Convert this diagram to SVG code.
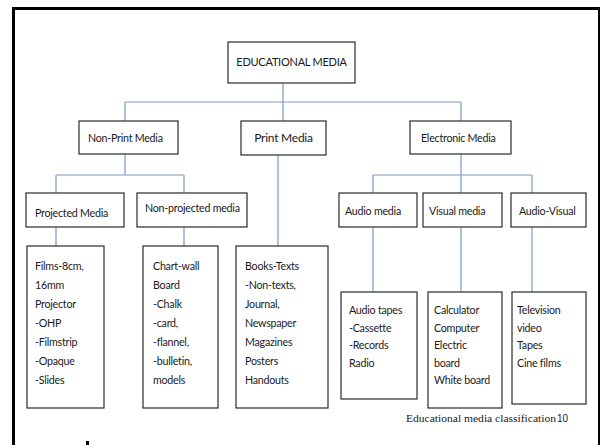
<svg xmlns="http://www.w3.org/2000/svg" width="602" height="445" viewBox="0 0 602 445">
<style>
.bx{fill:#fff;stroke:#2a2a2a;stroke-width:1.2}
.t{font-family:Lato,"Open Sans","Liberation Sans",sans-serif;font-size:10.7px;letter-spacing:-0.25px;fill:#1a1a1a}
.c{fill:none;stroke:#7a9cc6;stroke-width:1.2}
.frame{fill:none;stroke:#000}
</style>
<rect x="0" y="0" width="602" height="445" fill="#fff"/>
<g id="frame">
<line class="frame" x1="13.5" y1="8.5" x2="600" y2="8.5" stroke-width="3"/>
<line class="frame" x1="13.5" y1="7" x2="13.5" y2="445" stroke-width="3"/>
<line class="frame" x1="599" y1="7" x2="599" y2="445" stroke-width="2"/>
<rect x="86" y="441" width="3" height="4" fill="#000"/>
</g>
<g id="connectors">
<path class="c" d="M283 83V121M125 102H461M125 102V121M461 102V121"/>
<path class="c" d="M125 154V175M56 175H184M56 175V193M184 175V193M56 227V246M184 227V246"/>
<path class="c" d="M278 155V246"/>
<path class="c" d="M461 154V175M373 175H532M373 175V193M461 175V193M532 175V193M373 227V292M461 227V292M532 227V292"/>
</g>
<g id="edu"><rect class="bx" x="228" y="42" width="127" height="41"/><text class="t" x="291.5" y="66" text-anchor="middle" style="font-size:11px">EDUCATIONAL MEDIA</text></g>
<g id="nonprint"><rect class="bx" x="79" y="121" width="99" height="33"/><text class="t" x="88" y="142">Non-Print Media</text></g>
<g id="print"><rect class="bx" x="241" y="121" width="85" height="34"/><text class="t" x="283.5" y="142" text-anchor="middle" style="font-size:12px">Print Media</text></g>
<g id="electronic"><rect class="bx" x="410" y="121" width="101" height="33"/><text class="t" x="421" y="142">Electronic Media</text></g>
<g id="projected"><rect class="bx" x="26" y="193" width="98" height="34"/><text class="t" x="35" y="217">Projected Media</text></g>
<g id="nonprojected"><rect class="bx" x="137" y="193" width="110" height="34"/><text class="t" x="145" y="212">Non-projected media</text></g>
<g id="audio"><rect class="bx" x="339" y="193" width="78" height="34"/><text class="t" x="345" y="215">Audio media</text></g>
<g id="visual"><rect class="bx" x="423" y="193" width="79" height="34"/><text class="t" x="429" y="215">Visual media</text></g>
<g id="audiovisual"><rect class="bx" x="511" y="193" width="75" height="34"/><text class="t" x="519" y="215">Audio-Visual</text></g>
<g id="films"><rect class="bx" x="27" y="246" width="77" height="162"/>
<text class="t" x="35" y="270">Films-8cm,</text><text class="t" x="35" y="289">16mm</text><text class="t" x="35" y="308">Projector</text><text class="t" x="35" y="327">-OHP</text><text class="t" x="35" y="346">-Filmstrip</text><text class="t" x="35" y="365">-Opaque</text><text class="t" x="35" y="384">-Slides</text></g>
<g id="chart"><rect class="bx" x="143" y="246" width="75" height="162"/>
<text class="t" x="153" y="270">Chart-wall</text><text class="t" x="153" y="289">Board</text><text class="t" x="153" y="308">-Chalk</text><text class="t" x="153" y="327">-card,</text><text class="t" x="153" y="346">-flannel,</text><text class="t" x="153" y="365">-bulletin,</text><text class="t" x="153" y="384">models</text></g>
<g id="books"><rect class="bx" x="236" y="246" width="92" height="162"/>
<text class="t" x="245" y="270">Books-Texts</text><text class="t" x="245" y="289">-Non-texts,</text><text class="t" x="245" y="308">Journal,</text><text class="t" x="245" y="327">Newspaper</text><text class="t" x="245" y="346">Magazines</text><text class="t" x="245" y="365">Posters</text><text class="t" x="245" y="384">Handouts</text></g>
<g id="audiolist"><rect class="bx" x="341" y="292" width="76" height="107"/>
<text class="t" x="349" y="314">Audio tapes</text><text class="t" x="349" y="331.5">-Cassette</text><text class="t" x="349" y="349">-Records</text><text class="t" x="349" y="366.5">Radio</text></g>
<g id="visuallist"><rect class="bx" x="428" y="292" width="74" height="116"/>
<text class="t" x="434" y="314">Calculator</text><text class="t" x="434" y="331.5">Computer</text><text class="t" x="434" y="349">Electric</text><text class="t" x="434" y="366.5">board</text><text class="t" x="434" y="384">White board</text></g>
<g id="avlist"><rect class="bx" x="512" y="292" width="74" height="112"/>
<text class="t" x="517" y="314">Television</text><text class="t" x="517" y="331.5">video</text><text class="t" x="517" y="349">Tapes</text><text class="t" x="517" y="366.5">Cine films</text></g>
<g id="caption"><text x="406" y="422" style="font-family:'Liberation Serif',serif;font-size:11px;fill:#1a1a1a" textLength="150" lengthAdjust="spacingAndGlyphs">Educational media classification</text><text x="557" y="422" style="font-family:'Liberation Sans',sans-serif;font-size:10px;fill:#1a1a1a">10</text></g>
</svg>
